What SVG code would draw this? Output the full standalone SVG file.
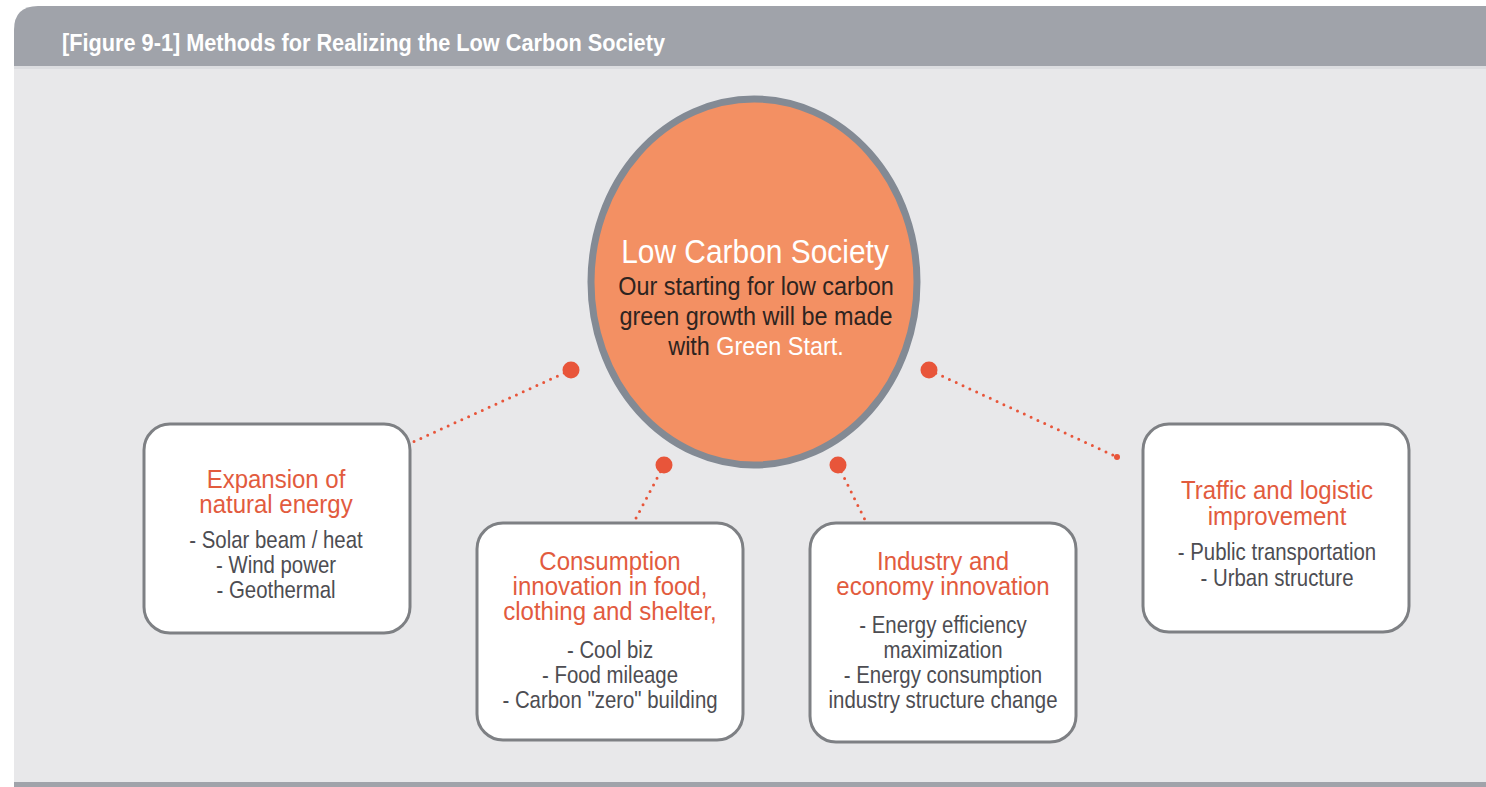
<svg xmlns="http://www.w3.org/2000/svg" width="1486" height="787" viewBox="0 0 1486 787">
  <style>
    .panel { fill: #e8e8ea; }
    .band { fill: #a0a3aa; }
    .box { fill: #ffffff; stroke: #7e8084; stroke-width: 3; }
    .hub { fill: #f39063; stroke: #838a94; stroke-width: 7; }
    .dot { fill: #e8553a; }
    .link { fill: none; stroke: #e8553a; stroke-width: 3; stroke-linecap: round; stroke-dasharray: 0 7.5; }
    .title { font-family: "Liberation Sans", Arial, sans-serif; font-weight: bold; font-size: 24px; fill: #ffffff; }
    .head { font-family: "Liberation Sans", Arial, sans-serif; font-size: 25px; fill: #e25b3e; text-anchor: middle; }
    .item { font-family: "Liberation Sans", Arial, sans-serif; font-size: 24px; fill: #4d4d52; text-anchor: middle; }
    .hubtitle { font-family: "Liberation Sans", Arial, sans-serif; font-size: 34px; fill: #ffffff; text-anchor: middle; }
    .hubtext { font-family: "Liberation Sans", Arial, sans-serif; font-size: 26px; fill: #2e2420; text-anchor: middle; }
  </style>

  <!-- page frame -->
  <rect x="0" y="0" width="1486" height="787" fill="#ffffff"/>
  <rect class="panel" x="14" y="60" width="1472" height="724"/>
  <path class="band" d="M14 66 V30 Q14 6 38 6 H1486 V66 Z"/>
  <rect x="14" y="66" width="1472" height="3" fill="#dcdde0"/>
  <rect class="band" x="14" y="782" width="1472" height="5"/>
  <text class="title" x="62" y="51" textLength="603" lengthAdjust="spacingAndGlyphs">[Figure 9-1] Methods for Realizing the Low Carbon Society</text>

  <!-- connectors -->
  <g id="connectors">
    <line class="link" x1="571" y1="370" x2="413" y2="442"/>
    <line class="link" x1="664" y1="465" x2="634" y2="522"/>
    <line class="link" x1="838" y1="465" x2="866" y2="522"/>
    <line class="link" x1="929" y1="370" x2="1117" y2="457"/>
    <circle class="dot" cx="571" cy="370" r="8.5"/>
    <circle class="dot" cx="664" cy="465" r="8.5"/>
    <circle class="dot" cx="838" cy="465" r="8.5"/>
    <circle class="dot" cx="929" cy="370" r="8.5"/>
    <circle class="dot" cx="1117" cy="457" r="3"/>
  </g>

  <!-- central hub -->
  <g id="hub">
    <ellipse class="hub" cx="754" cy="282" rx="163" ry="183"/>
    <text class="hubtitle" transform="translate(755 0) scale(0.88 1)" x="0" y="263">Low Carbon Society</text>
    <g transform="translate(756 0) scale(0.9 1)">
      <text class="hubtext" x="0" y="295">Our starting for low carbon</text>
      <text class="hubtext" x="0" y="325">green growth will be made</text>
      <text class="hubtext" x="0" y="355">with <tspan fill="#ffffff">Green Start.</tspan></text>
    </g>
  </g>

  <!-- natural energy -->
  <g id="natural-energy">
    <rect class="box" x="144" y="424" width="266" height="209" rx="26"/>
    <g transform="translate(276 0) scale(0.96 1)">
      <text class="head" x="0" y="488">Expansion of</text>
      <text class="head" x="0" y="513">natural energy</text>
    </g>
    <g transform="translate(276 0) scale(0.85 1)">
      <text class="item" x="0" y="548">- Solar beam / heat</text>
      <text class="item" x="0" y="573">- Wind power</text>
      <text class="item" x="0" y="598">- Geothermal</text>
    </g>
  </g>

  <!-- consumption -->
  <g id="consumption">
    <rect class="box" x="477" y="523" width="266" height="217" rx="26"/>
    <g transform="translate(610 0) scale(0.96 1)">
      <text class="head" x="0" y="570">Consumption</text>
      <text class="head" x="0" y="595">innovation in food,</text>
      <text class="head" x="0" y="620">clothing and shelter,</text>
    </g>
    <g transform="translate(610 0) scale(0.85 1)">
      <text class="item" x="0" y="658">- Cool biz</text>
      <text class="item" x="0" y="683">- Food mileage</text>
      <text class="item" x="0" y="708">- Carbon "zero" building</text>
    </g>
  </g>

  <!-- industry -->
  <g id="industry">
    <rect class="box" x="810" y="523" width="266" height="219" rx="26"/>
    <g transform="translate(943 0) scale(0.96 1)">
      <text class="head" x="0" y="570">Industry and</text>
      <text class="head" x="0" y="595">economy innovation</text>
    </g>
    <g transform="translate(943 0) scale(0.85 1)">
      <text class="item" x="0" y="633">- Energy efficiency</text>
      <text class="item" x="0" y="658">maximization</text>
      <text class="item" x="0" y="683">- Energy consumption</text>
      <text class="item" x="0" y="708">industry structure change</text>
    </g>
  </g>

  <!-- traffic -->
  <g id="traffic">
    <rect class="box" x="1143" y="424" width="266" height="208" rx="26"/>
    <g transform="translate(1277 0) scale(0.96 1)">
      <text class="head" x="0" y="499">Traffic and logistic</text>
      <text class="head" x="0" y="525">improvement</text>
    </g>
    <g transform="translate(1277 0) scale(0.85 1)">
      <text class="item" x="0" y="560">- Public transportation</text>
      <text class="item" x="0" y="586">- Urban structure</text>
    </g>
  </g>
</svg>
